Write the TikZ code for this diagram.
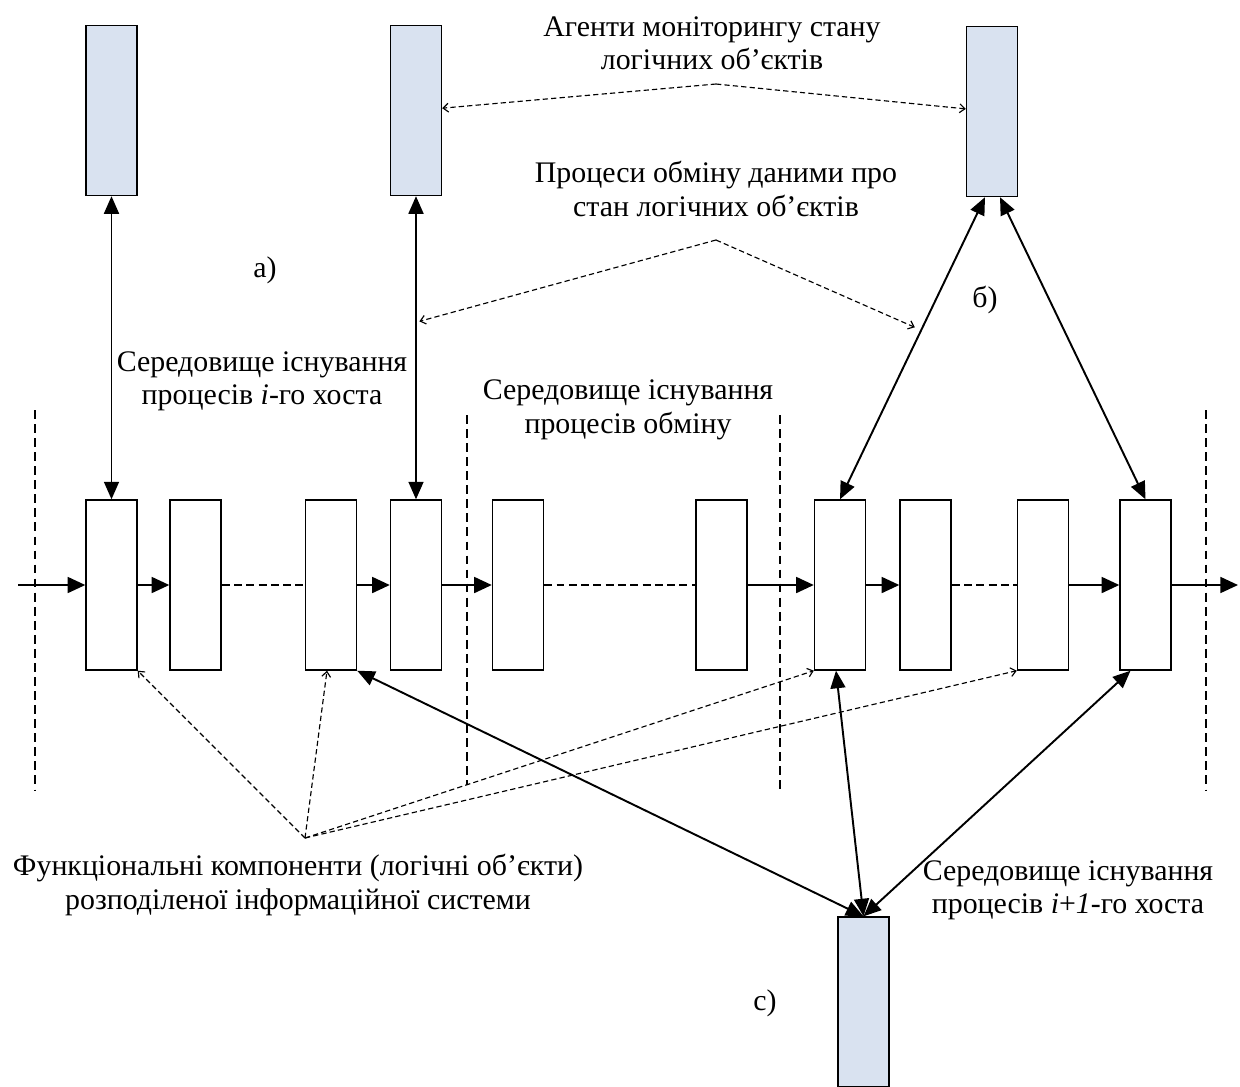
\documentclass[tikz,border=0pt]{standalone}
\usepackage{fontspec}
\setmainfont{Liberation Serif}
\usetikzlibrary{arrows.meta}
\definecolor{agentblue}{RGB}{217,226,240}

\begin{document}
\begin{tikzpicture}
  [x=0.02cm,y=-0.02cm,
   obj/.style={rectangle,draw,line width=0.8pt,fill=white,minimum width=1.02cm,minimum height=3.4cm,inner sep=0pt},
   agent/.style={obj,fill=agentblue},
   flow/.style={line width=1.2pt,-{Triangle[length=10pt,width=9pt]}},
   link/.style={line width=1.1pt,{Triangle[length=10pt,width=8.5pt]}-{Triangle[length=10pt,width=8.5pt]}},
   gap/.style={line width=1.2pt,dash pattern=on 4.5pt off 2.5pt},
   note/.style={line width=0.65pt,dash pattern=on 3pt off 1.8pt,-{Straight Barb[length=3pt,width=5pt]}},
   sep/.style={line width=0.8pt,dash pattern=on 5pt off 3pt},
   lbl/.style={align=center,font=\fontsize{17}{19}\selectfont,inner sep=0pt}]
  \useasboundingbox (0,0) rectangle (1240,1086);

  % separators between hosts
  \draw[sep] (35,410) -- (35,790);
  \draw[sep] (467,415) -- (467,785);
  \draw[sep] (780,415) -- (780,790);
  \draw[sep] (1206,410) -- (1206,790);

  % agents
  \node[agent] (tA) at (111.5,110.5) {};
  \node[agent] (tB) at (416,110.5) {};
  \node[agent] (tC) at (992,111.5) {};
  \node[agent] (bot) at (863.5,1002) {};

  % logical objects
  \node[obj] (b1) at (111.5,585) {};
  \node[obj] (b2) at (195.5,585) {};
  \node[obj] (b3) at (331,585) {};
  \node[obj] (b4) at (416,585) {};
  \node[obj] (b5) at (518,585) {};
  \node[obj] (b6) at (721.5,585) {};
  \node[obj] (b7) at (840,585) {};
  \node[obj] (b8) at (925.5,585) {};
  \node[obj] (b9) at (1043,585) {};
  \node[obj] (b10) at (1145.5,585) {};
  \coordinate (in) at (18,585);
  \coordinate (out) at (1238,585);

  % chain
  \draw[flow] (in) -- (b1);
  \foreach \from/\to in {b1/b2,b3/b4,b4/b5,b6/b7,b7/b8,b9/b10,b10/out}
    \draw[flow] (\from) -- (\to);
  \foreach \from/\to in {b2/b3,b5/b6,b8/b9}
    \draw[gap] (\from) -- (\to);

  % data exchange
  \draw[link] (tA) -- (b1);
  \draw[link] (tB) -- coordinate[pos=0.416] (mB) (b4);
  \draw[link] ([xshift=-0.14cm]tC.south) -- coordinate[pos=0.44] (mC) (b7.north);
  \draw[link] ([xshift=0.16cm]tC.south) -- (b10.north);
  \draw[link] (bot.north) -- (b3.south east);
  \draw[link] (bot.north) -- ([xshift=-0.08cm]b7.south);
  \draw[link] (bot.north) -- ([xshift=-0.3cm]b10.south);

  % labels
  \node[lbl] (agents) at (712,43) {Агенти моніторингу стану\\логічних об’єктів};
  \node[lbl] (proc) at (716,189) {Процеси обміну даними про\\стан логічних об’єктів};
  \node[lbl] (labA) at (265,270) {а)};
  \node[lbl] (labB) at (985,300) {б)};
  \node[lbl] (labC) at (765,1003) {с)};
  \node[lbl] (hostA) at (262,381) {Середовище існування\\процесів \textit{i}-го хоста};
  \node[lbl] (exch) at (628,410) {Середовище існування\\процесів обміну};
  \node[lbl] (func) at (298,885) {Функціональні компоненти (логічні об’єкти)\\розподіленої інформаційної системи};
  \node[lbl] (hostB) at (1068,890) {Середовище існування\\процесів \textit{i}+\textit{1}-го хоста};

  % pointers
  \coordinate (ag) at (716,84);
  \coordinate (pr) at (716,240);
  \coordinate (fc) at (305,838);
  \foreach \to in {tB,tC}
    \draw[note] (ag) -- (\to);
  \draw[note,shorten >=2pt] (pr) -- (mB);
  \draw[note,shorten >=4pt] (pr) -- (mC);
  \draw[note] (fc) -- (b1.south east);
  \draw[note] (fc) -- ([xshift=-0.08cm]b3.south);
  \draw[note] (fc) -- (b7.south west);
  \draw[note] (fc) -- (b9.south west);

\end{tikzpicture}
\end{document}
